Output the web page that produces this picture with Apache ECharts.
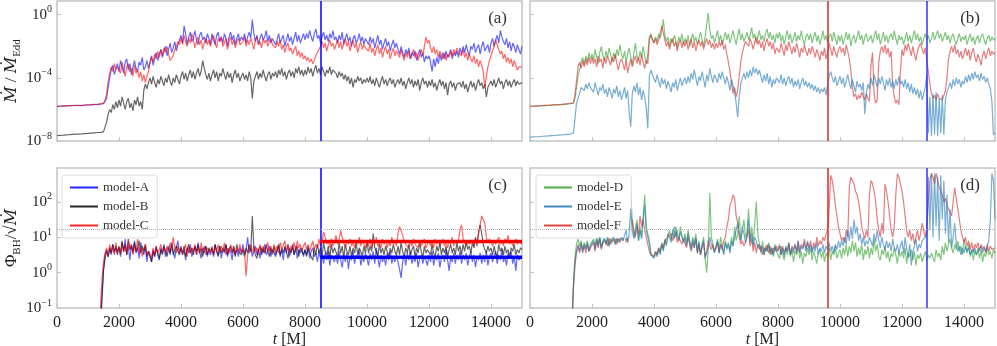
<!DOCTYPE html>
<html>
<head>
<meta charset="utf-8">
<script src="https://cdn.jsdelivr.net/npm/echarts@6/dist/echarts.min.js"></script>
<style>
  html, body { margin: 0; padding: 0; background: #fff; }
  #chart { width: 997px; height: 346px; }
</style>
</head>
<body>
<div id="chart"></div>
<script>
// time grid in M, one sample every 50 M (301 samples)
const time = [0,50,100,150,200,250,300,350,400,450,
  500,550,600,650,700,750,800,850,900,950,
  1000,1050,1100,1150,1200,1250,1300,1350,1400,1450,
  1500,1550,1600,1650,1700,1750,1800,1850,1900,1950,
  2000,2050,2100,2150,2200,2250,2300,2350,2400,2450,
  2500,2550,2600,2650,2700,2750,2800,2850,2900,2950,
  3000,3050,3100,3150,3200,3250,3300,3350,3400,3450,
  3500,3550,3600,3650,3700,3750,3800,3850,3900,3950,
  4000,4050,4100,4150,4200,4250,4300,4350,4400,4450,
  4500,4550,4600,4650,4700,4750,4800,4850,4900,4950,
  5000,5050,5100,5150,5200,5250,5300,5350,5400,5450,
  5500,5550,5600,5650,5700,5750,5800,5850,5900,5950,
  6000,6050,6100,6150,6200,6250,6300,6350,6400,6450,
  6500,6550,6600,6650,6700,6750,6800,6850,6900,6950,
  7000,7050,7100,7150,7200,7250,7300,7350,7400,7450,
  7500,7550,7600,7650,7700,7750,7800,7850,7900,7950,
  8000,8050,8100,8150,8200,8250,8300,8350,8400,8450,
  8500,8550,8600,8650,8700,8750,8800,8850,8900,8950,
  9000,9050,9100,9150,9200,9250,9300,9350,9400,9450,
  9500,9550,9600,9650,9700,9750,9800,9850,9900,9950,
  10000,10050,10100,10150,10200,10250,10300,10350,10400,10450,
  10500,10550,10600,10650,10700,10750,10800,10850,10900,10950,
  11000,11050,11100,11150,11200,11250,11300,11350,11400,11450,
  11500,11550,11600,11650,11700,11750,11800,11850,11900,11950,
  12000,12050,12100,12150,12200,12250,12300,12350,12400,12450,
  12500,12550,12600,12650,12700,12750,12800,12850,12900,12950,
  13000,13050,13100,13150,13200,13250,13300,13350,13400,13450,
  13500,13550,13600,13650,13700,13750,13800,13850,13900,13950,
  14000,14050,14100,14150,14200,14250,14300,14350,14400,14450,
  14500,14550,14600,14650,14700,14750,14800,14850,14900,14950,
  15000];

// accretion rate Mdot/Mdot_Edd, stored as log10 exponents
const mdotA = [-5.82,-5.8,-5.79,-5.81,-5.78,-5.8,-5.77,-5.79,-5.76,-5.78,
  -5.75,-5.77,-5.74,-5.76,-5.75,-5.73,-5.76,-5.74,-5.72,-5.75,
  -5.72,-5.7,-5.71,-5.68,-5.7,-5.66,-5.69,-5.65,-5.67,-5.63,
  -5.64,-5.55,-5.3,-4.6,-4.0,-3.5,-3.2,-3.8,-3.4,-3.1,
  -3.6,-2.9,-3.3,-3.7,-3.0,-2.8,-3.5,-3.1,-3.8,-3.3,
  -2.9,-3.4,-3.6,-3.0,-3.2,-2.7,-3.5,-3.3,-2.9,-3.4,
  -3.0,-2.6,-3.2,-2.8,-2.4,-2.9,-2.5,-2.2,-2.7,-2.3,
  -2.0,-2.6,-2.2,-1.8,-2.4,-2.1,-1.7,-2.3,-1.9,-1.6,
  -1.3,-1.8,-0.7,-1.2,-1.9,-1.4,-1.1,-1.7,-1.5,-1.0,
  -1.6,-1.9,-1.3,-1.1,-1.6,-1.4,-1.8,-1.2,-1.5,-1.9,
  -1.2,-1.6,-1.9,-1.3,-1.1,-1.7,-1.4,-1.8,-1.2,-1.5,
  -2.0,-1.4,-1.1,-1.6,-1.3,-1.9,-1.5,-1.2,-1.7,-1.4,
  -1.6,-1.2,-1.8,-1.4,-1.1,-1.5,-0.3,-1.2,-1.7,-1.3,
  -1.9,-1.5,-1.2,-1.6,-1.4,-1.0,-1.7,-1.3,-1.8,-1.5,
  -1.4,-1.9,-1.6,-1.2,-1.8,-1.5,-1.3,-2.0,-1.6,-1.2,
  -1.7,-1.4,-1.9,-1.5,-1.1,-1.7,-1.3,-1.8,-1.5,-1.2,
  -1.6,-1.2,-1.5,-1.0,-1.4,-1.7,-1.2,-0.9,-1.5,-1.3,
  -1.8,-1.4,-1.1,-1.6,-1.3,-1.7,-1.2,-1.5,-1.0,-1.6,
  -1.4,-1.8,-1.3,-1.6,-1.1,-1.9,-1.5,-1.2,-1.7,-1.4,
  -2.0,-1.5,-1.3,-1.8,-1.6,-1.2,-1.7,-1.4,-1.9,-1.5,
  -1.6,-1.9,-1.4,-1.8,-1.5,-2.1,-1.7,-1.3,-1.9,-1.6,
  -2.2,-1.8,-1.5,-2.0,-1.7,-2.3,-1.9,-1.6,-2.1,-1.8,
  -2.2,-2.5,-2.0,-2.4,-2.7,-2.2,-2.5,-2.1,-2.8,-2.4,
  -2.6,-2.3,-2.9,-2.5,-2.2,-2.7,-2.4,-3.0,-2.6,-2.8,
  -2.6,-3.0,-3.6,-2.8,-3.3,-2.7,-3.1,-2.5,-2.9,-2.4,
  -2.8,-2.3,-2.7,-2.5,-2.2,-2.8,-2.4,-2.6,-2.3,-2.7,
  -2.1,-2.5,-2.0,-2.4,-1.9,-2.3,-2.6,-2.0,-2.2,-1.8,
  -2.4,-2.1,-1.9,-2.5,-2.0,-1.7,-2.3,-2.1,-1.9,-2.4,
  -1.8,-1.5,-2.0,-1.6,-1.3,-1.8,-1.0,-1.4,-1.7,-1.9,
  -1.5,-2.1,-1.7,-2.3,-1.8,-2.0,-2.4,-1.9,-2.2,-2.5,
  -2.0];
const mdotB = [-7.66,-7.62,-7.64,-7.6,-7.63,-7.58,-7.61,-7.57,-7.6,-7.55,
  -7.58,-7.54,-7.57,-7.52,-7.56,-7.51,-7.55,-7.5,-7.53,-7.49,
  -7.52,-7.47,-7.5,-7.45,-7.48,-7.43,-7.46,-7.42,-7.45,-7.4,
  -7.42,-7.35,-6.8,-6.3,-6.0,-6.2,-5.7,-6.0,-5.5,-5.9,
  -5.4,-5.8,-5.2,-5.6,-6.0,-5.5,-5.3,-5.9,-5.6,-6.1,
  -5.4,-5.7,-5.2,-5.8,-5.5,-6.0,-4.8,-4.4,-4.7,-4.3,
  -4.0,-4.4,-3.9,-4.3,-4.6,-4.1,-4.4,-3.9,-4.2,-4.5,
  -4.0,-4.3,-3.8,-4.2,-4.5,-4.0,-4.3,-3.8,-4.1,-4.4,
  -3.9,-3.6,-4.1,-3.7,-4.2,-3.8,-3.5,-4.0,-3.6,-4.1,
  -3.7,-3.4,-3.9,-3.6,-2.9,-3.4,-3.8,-4.1,-3.7,-4.2,
  -3.8,-3.5,-4.0,-3.6,-4.2,-3.7,-3.9,-3.4,-3.8,-4.1,
  -3.6,-4.0,-3.7,-4.3,-3.8,-3.5,-4.0,-3.7,-4.2,-3.9,
  -3.7,-4.1,-3.8,-4.2,-3.6,-4.0,-5.3,-4.2,-3.9,-3.6,
  -4.1,-3.7,-4.0,-3.5,-3.9,-4.2,-3.8,-3.6,-4.1,-3.7,
  -3.9,-3.6,-4.0,-3.5,-3.8,-3.4,-3.9,-3.6,-4.1,-3.7,
  -3.5,-3.9,-3.6,-4.0,-3.4,-3.7,-3.3,-3.8,-3.5,-3.9,
  -3.5,-3.8,-3.3,-3.7,-3.4,-3.9,-3.5,-3.2,-3.7,-3.4,
  -3.8,-3.3,-3.6,-3.9,-3.5,-3.7,-3.3,-3.8,-3.5,-3.6,
  -3.7,-4.0,-3.6,-3.9,-3.7,-4.1,-3.8,-4.2,-3.9,-4.4,
  -4.0,-4.6,-4.1,-4.3,-3.9,-4.2,-4.0,-4.4,-4.1,-4.3,
  -4.0,-4.3,-3.9,-4.4,-4.1,-4.5,-4.0,-4.3,-4.6,-4.2,
  -3.9,-4.4,-4.1,-4.5,-4.2,-4.0,-4.4,-4.1,-4.6,-4.3,
  -4.1,-4.4,-4.0,-4.5,-4.2,-4.7,-4.3,-4.0,-4.4,-4.1,
  -4.6,-4.2,-4.5,-4.1,-4.8,-4.3,-4.0,-4.4,-4.2,-4.6,
  -4.2,-4.5,-4.1,-4.6,-4.3,-4.8,-4.4,-4.1,-4.5,-4.2,
  -4.7,-4.3,-5.1,-4.4,-4.2,-4.6,-4.3,-4.8,-4.4,-4.5,
  -4.3,-4.6,-4.2,-4.7,-4.4,-4.9,-4.5,-4.2,-4.6,-4.3,
  -4.8,-4.4,-4.1,-4.5,-4.3,-4.7,-4.4,-5.2,-4.6,-4.4,
  -4.2,-4.5,-4.1,-4.6,-4.3,-4.0,-4.4,-4.2,-4.7,-4.3,
  -4.1,-4.5,-4.2,-4.6,-4.3,-4.1,-4.5,-4.2,-4.4,-4.3,
  -4.3];
const mdotC = [-5.81,-5.79,-5.8,-5.78,-5.79,-5.77,-5.78,-5.76,-5.77,-5.75,
  -5.76,-5.74,-5.75,-5.73,-5.74,-5.72,-5.74,-5.71,-5.73,-5.7,
  -5.71,-5.69,-5.7,-5.67,-5.68,-5.66,-5.67,-5.64,-5.65,-5.62,
  -5.6,-5.45,-5.0,-4.2,-3.7,-3.3,-3.6,-3.1,-3.5,-3.3,
  -3.2,-3.7,-3.0,-3.5,-3.9,-3.3,-3.1,-3.6,-3.4,-3.9,
  -3.2,-3.7,-3.5,-4.0,-3.6,-4.2,-3.8,-4.3,-3.9,-3.6,
  -3.1,-2.7,-3.0,-2.5,-2.8,-2.3,-2.7,-2.2,-2.6,-2.1,
  -2.4,-2.0,-2.5,-2.9,-3.0,-2.6,-2.2,-2.0,-1.7,-1.9,
  -1.5,-1.9,-1.3,-1.7,-2.0,-1.5,-1.8,-1.2,-1.6,-2.1,
  -1.7,-1.4,-1.9,-1.6,-2.2,-1.8,-1.5,-1.9,-1.6,-2.0,
  -1.6,-1.3,-1.8,-2.1,-1.5,-1.7,-1.4,-2.0,-1.8,-1.5,
  -2.2,-1.7,-1.4,-1.9,-1.6,-2.1,-1.7,-1.5,-1.9,-1.8,
  -1.7,-1.4,-2.0,-1.6,-1.9,-1.5,-1.8,-2.2,-1.6,-1.4,
  -1.9,-1.7,-2.1,-1.5,-1.8,-1.6,-2.0,-1.7,-1.5,-1.9,
  -1.8,-2.1,-1.7,-2.0,-1.6,-2.2,-1.9,-2.4,-2.0,-1.8,
  -2.3,-2.1,-2.5,-2.2,-2.0,-2.6,-2.3,-2.7,-2.4,-2.8,
  -2.6,-2.9,-2.7,-3.0,-2.8,-3.1,-2.9,-2.6,-2.5,-2.2,
  -2.0,-1.7,-2.1,-1.8,-2.3,-1.9,-1.6,-2.0,-1.8,-2.2,
  -1.9,-1.6,-2.1,-1.7,-2.2,-1.8,-1.5,-2.0,-1.7,-2.3,
  -1.9,-1.6,-2.1,-1.8,-2.4,-2.0,-1.7,-2.2,-1.9,-2.1,
  -2.0,-2.3,-1.8,-2.4,-2.1,-2.6,-2.2,-1.9,-2.5,-2.1,
  -2.7,-2.3,-2.0,-2.5,-2.2,-2.8,-2.4,-2.1,-2.6,-2.3,
  -2.4,-2.7,-2.2,-2.6,-2.9,-2.4,-2.7,-2.3,-2.8,-2.5,
  -2.2,-2.7,-2.4,-2.9,-2.5,-2.2,-2.6,-2.0,-1.4,-1.8,
  -1.6,-2.1,-2.4,-2.0,-2.5,-2.2,-2.7,-2.3,-2.6,-2.8,
  -2.4,-2.9,-2.5,-2.7,-2.3,-2.6,-2.2,-2.5,-2.1,-2.4,
  -2.3,-2.6,-2.2,-2.7,-2.4,-2.9,-2.5,-2.8,-3.0,-2.6,
  -3.1,-2.8,-3.3,-2.9,-3.2,-3.6,-4.6,-3.9,-3.3,-2.9,
  -2.6,-2.3,-2.0,-1.6,-1.9,-2.2,-2.5,-2.3,-2.8,-2.5,
  -3.0,-2.7,-3.1,-2.8,-3.3,-2.9,-3.2,-3.5,-3.3,-3.4,
  -3.3];
const mdotD = [-5.81,-5.79,-5.8,-5.78,-5.79,-5.76,-5.78,-5.75,-5.77,-5.74,
  -5.76,-5.73,-5.75,-5.72,-5.74,-5.71,-5.72,-5.7,-5.71,-5.68,
  -5.7,-5.67,-5.68,-5.65,-5.66,-5.62,-5.64,-5.6,-5.58,-5.3,
  -4.6,-3.9,-3.5,-3.0,-2.7,-3.2,-2.6,-3.0,-2.4,-2.8,
  -2.5,-2.9,-2.2,-2.7,-3.1,-2.4,-2.0,-2.6,-2.9,-2.3,
  -2.7,-2.1,-2.5,-3.0,-2.4,-2.8,-2.2,-2.6,-1.9,-2.5,
  -2.8,-2.3,-3.0,-2.5,-2.1,-2.7,-3.2,-2.4,-1.8,-2.6,
  -2.9,-2.3,-2.7,-2.0,-2.6,-3.1,-2.5,-1.4,-1.2,-1.5,
  -1.8,-1.4,-1.7,-1.2,-1.5,-1.0,-0.3,-1.3,-1.7,-1.4,
  -2.0,-1.5,-1.8,-1.3,-1.6,-2.1,-1.4,-1.7,-1.2,-1.9,
  -1.5,-1.8,-1.3,-2.0,-1.6,-1.2,-1.7,-1.4,-1.9,-1.5,
  -1.1,-1.6,-2.0,-1.4,-0.6,0.1,-1.0,-1.5,-1.3,-1.8,
  -1.4,-1.0,-1.7,-1.3,-1.9,-1.5,-1.1,-1.6,-1.2,-1.8,
  -1.4,-1.0,-1.5,-1.9,-1.3,-0.9,-1.6,-1.2,-1.7,-1.4,
  -1.1,-1.6,-1.3,-0.8,-1.5,-1.2,-1.8,-1.4,-1.0,-1.6,
  -1.3,-1.7,-1.2,-0.9,-1.5,-1.1,-1.6,-1.3,-1.8,-1.2,
  -1.5,-1.1,-1.7,-1.3,-1.9,-1.4,-1.0,-1.6,-1.2,-1.8,
  -1.5,-1.1,-1.7,-1.3,-1.6,-1.0,-1.5,-1.9,-1.4,-1.2,
  -1.6,-1.2,-1.8,-1.4,-1.1,-1.7,-1.3,-1.9,-1.5,-1.0,
  -1.6,-1.3,-1.8,-1.4,-1.2,-1.7,-1.1,-1.5,-1.9,-1.3,
  -1.7,-1.3,-1.9,-1.5,-1.1,-1.6,-1.2,-2.0,-1.5,-1.3,
  -1.8,-1.4,-1.0,-1.6,-1.3,-1.9,-1.4,-1.2,-1.7,-1.5,
  -1.3,-1.8,-1.4,-1.0,-1.6,-1.2,-1.9,-1.5,-1.1,-1.7,
  -1.3,-1.8,-1.4,-1.2,-1.6,-1.0,-1.5,-1.9,-1.3,-1.6,
  -1.4,-1.9,-1.5,-1.1,-1.7,-1.3,-1.8,-1.4,-1.0,-1.6,
  -1.2,-1.7,-1.4,-1.9,-1.5,-1.2,-1.6,-1.3,-1.8,-1.5,
  -1.1,-1.6,-1.3,-1.0,-1.5,-1.2,-1.7,-1.4,-1.1,-1.6,
  -1.3,-1.8,-1.4,-1.2,-1.6,-1.9,-1.5,-1.2,-1.7,-1.4,
  -1.6,-1.3,-1.9,-1.5,-1.2,-1.7,-1.4,-1.9,-1.5,-1.3,
  -1.8,-1.4,-1.2,-1.6,-1.9,-1.5,-1.3,-1.7,-1.4,-1.6,
  -1.5];
const mdotE = [-7.76,-7.72,-7.74,-7.7,-7.73,-7.69,-7.72,-7.67,-7.7,-7.66,
  -7.69,-7.64,-7.68,-7.63,-7.66,-7.62,-7.65,-7.6,-7.63,-7.59,
  -7.62,-7.58,-7.6,-7.56,-7.58,-7.54,-7.56,-7.52,-7.5,-6.6,
  -5.6,-5.3,-5.0,-4.6,-4.5,-4.8,-4.4,-4.7,-4.3,-4.6,
  -4.5,-4.9,-4.3,-4.7,-5.1,-4.6,-4.8,-4.4,-5.0,-4.7,
  -5.2,-4.6,-4.9,-5.3,-4.7,-5.0,-4.5,-5.2,-4.8,-5.4,
  -5.0,-4.6,-5.3,-4.8,-6.2,-7.1,-5.0,-4.5,-4.9,-4.3,
  -5.1,-4.6,-5.4,-4.8,-5.2,-5.9,-7.2,-3.9,-3.5,-3.8,
  -3.9,-4.3,-3.8,-4.2,-4.6,-4.0,-4.4,-4.1,-4.7,-4.2,
  -4.5,-4.9,-4.3,-4.6,-4.1,-4.8,-4.4,-4.0,-4.5,-4.2,
  -4.0,-4.4,-3.9,-4.3,-3.7,-4.1,-3.5,-4.0,-4.5,-3.9,
  -4.2,-3.6,-4.1,-4.6,-3.8,-4.2,-3.4,-3.9,-4.3,-3.8,
  -3.8,-4.3,-3.7,-4.1,-3.6,-4.0,-4.4,-3.9,-4.3,-4.8,
  -4.1,-4.5,-4.9,-5.6,-6.5,-5.2,-4.4,-4.0,-3.7,-4.1,
  -3.6,-4.0,-3.5,-3.9,-3.3,-3.7,-3.4,-3.8,-3.5,-3.9,
  -4.3,-3.8,-4.2,-3.7,-4.4,-3.9,-4.6,-4.1,-4.4,-4.0,
  -3.9,-4.3,-3.8,-4.4,-4.0,-4.5,-4.1,-3.9,-4.4,-4.0,
  -4.6,-4.2,-4.5,-4.1,-4.7,-4.3,-4.0,-4.5,-4.2,-4.6,
  -4.3,-4.7,-4.4,-4.8,-4.5,-4.9,-4.6,-5.0,-4.7,-4.9,
  -4.6,-5.1,-4.4,-3.9,-3.6,-4.0,-4.3,-3.9,-4.5,-4.2,
  -3.9,-4.4,-4.0,-4.6,-4.2,-3.8,-4.3,-4.7,-4.1,-4.5,
  -4.9,-4.2,-4.6,-4.4,-4.8,-4.3,-6.3,-5.0,-4.4,-4.7,
  -4.0,-4.5,-3.8,-4.2,-4.6,-4.0,-4.4,-3.9,-4.3,-4.8,
  -4.1,-4.5,-4.0,-4.6,-4.2,-4.7,-4.1,-4.5,-3.9,-4.4,
  -4.2,-4.6,-4.1,-4.7,-4.3,-4.9,-4.4,-5.0,-4.6,-5.1,
  -4.7,-5.3,-4.8,-5.4,-5.0,-4.6,-3.8,-7.5,-5.2,-7.7,
  -5.0,-7.6,-4.9,-7.7,-5.3,-7.5,-5.1,-7.6,-5.4,-4.9,
  -4.6,-4.3,-4.7,-4.1,-4.5,-4.0,-4.4,-4.1,-4.6,-4.2,
  -4.4,-3.9,-4.3,-3.8,-4.2,-3.7,-4.1,-3.6,-4.0,-3.8,
  -4.2,-3.7,-4.1,-3.9,-4.3,-4.0,-4.4,-4.7,-5.5,-7.6,
  -7.5];
const mdotF = [-5.8,-5.8,-5.79,-5.79,-5.78,-5.77,-5.77,-5.76,-5.75,-5.75,
  -5.74,-5.73,-5.73,-5.72,-5.71,-5.71,-5.7,-5.7,-5.69,-5.68,
  -5.68,-5.67,-5.66,-5.65,-5.64,-5.63,-5.62,-5.61,-5.6,-5.1,
  -4.2,-3.3,-3.0,-3.4,-2.9,-3.3,-2.8,-3.2,-2.7,-3.1,
  -2.7,-3.1,-2.8,-3.3,-2.6,-3.0,-2.8,-3.4,-2.7,-3.1,
  -2.6,-2.9,-3.2,-2.7,-3.0,-2.5,-3.1,-3.5,-3.0,-2.8,
  -3.1,-3.5,-2.9,-3.7,-3.2,-2.8,-3.3,-2.9,-2.6,-3.1,
  -2.7,-3.2,-2.5,-3.0,-3.4,-2.9,-3.1,-1.6,-1.3,-1.6,
  -1.8,-1.5,-1.9,-1.6,-1.2,-0.7,-0.6,-1.6,-2.0,-1.7,
  -2.2,-1.8,-1.5,-2.0,-1.7,-2.3,-1.8,-1.6,-2.1,-1.7,
  -2.0,-1.6,-2.2,-1.8,-1.5,-2.1,-1.7,-2.3,-1.9,-1.6,
  -2.0,-1.7,-2.2,-1.8,-1.5,-1.9,-1.6,-2.1,-1.8,-2.2,
  -1.8,-2.1,-1.7,-2.0,-1.6,-2.2,-1.9,-2.5,-3.0,-3.6,
  -4.3,-5.0,-4.6,-5.2,-4.8,-3.9,-3.0,-2.4,-2.0,-1.7,
  -1.6,-2.0,-1.5,-1.8,-2.2,-1.7,-1.4,-1.9,-1.6,-2.1,
  -1.7,-2.3,-1.8,-1.5,-2.0,-1.7,-2.2,-1.8,-2.5,-2.1,
  -2.0,-2.4,-1.8,-2.2,-2.6,-1.9,-2.3,-1.7,-2.1,-2.5,
  -2.0,-2.4,-1.8,-2.2,-2.7,-2.1,-2.4,-1.9,-2.3,-2.6,
  -2.1,-2.5,-2.0,-2.3,-2.7,-2.2,-2.5,-2.9,-2.3,-2.6,
  -2.1,-2.8,-2.4,-1.8,-2.2,-2.6,-2.0,-2.4,-2.7,-2.2,
  -2.0,-2.4,-2.1,-2.6,-1.9,-2.3,-2.8,-3.5,-4.6,-5.2,
  -5.0,-5.4,-5.1,-5.3,-4.9,-5.2,-5.4,-5.0,-5.3,-5.5,
  -3.2,-2.4,-5.0,-5.6,-5.4,-3.0,-2.3,-2.0,-2.4,-1.9,
  -2.5,-2.1,-2.7,-2.3,-4.5,-5.2,-5.6,-5.4,-5.7,-3.6,
  -2.2,-2.6,-1.9,-2.3,-1.8,-2.2,-2.6,-2.0,-2.5,-2.9,
  -2.3,-2.0,-1.8,-2.2,-2.5,-2.1,-2.9,-3.6,-4.4,-5.0,
  -5.3,-5.1,-5.4,-5.0,-5.3,-5.2,-5.4,-5.1,-4.8,-4.0,
  -2.8,-2.3,-2.0,-2.4,-1.9,-2.5,-2.2,-2.7,-2.3,-2.8,
  -2.5,-2.1,-2.6,-2.2,-2.9,-2.4,-2.1,-2.7,-3.0,-2.5,
  -2.8,-3.2,-2.6,-2.3,-2.8,-2.4,-2.1,-2.6,-2.3,-2.5,
  -2.4];

// magnetic flux Phi_BH/sqrt(Mdot), log10 exponents (null = no flux yet)
const phiA = [null,null,null,null,null,null,null,null,null,null,
  null,null,null,null,null,null,null,null,null,null,
  null,null,null,null,null,null,null,null,-1.5,-0.6,
  0.1,0.5,0.65,0.45,0.7,0.5,0.8,0.55,0.75,0.6,
  0.7,0.45,0.85,0.6,0.95,0.5,0.75,0.35,0.8,0.6,
  0.9,0.55,0.7,0.4,0.85,0.65,0.5,0.75,0.3,0.6,
  0.55,0.3,0.65,0.45,0.75,0.5,0.35,0.7,0.55,0.8,
  0.45,0.65,0.75,0.5,0.85,0.6,0.4,0.7,0.9,0.55,
  0.75,0.5,0.65,0.35,0.7,0.55,0.8,0.45,0.6,0.75,
  0.5,0.85,0.6,0.4,0.7,0.55,0.75,0.45,0.65,0.5,
  0.7,0.45,0.8,0.6,0.5,0.75,0.4,0.65,0.55,0.8,
  0.45,0.7,0.6,0.35,0.75,0.5,0.65,0.45,0.7,0.55,
  0.8,0.5,0.65,1.0,0.55,0.7,0.45,0.6,0.75,0.5,
  0.65,0.4,0.7,0.55,0.8,0.5,0.6,0.75,0.45,0.65,
  0.7,0.45,0.6,0.75,0.5,0.65,0.35,0.7,0.55,0.8,
  0.45,0.6,0.7,0.5,0.75,0.4,0.65,0.55,0.7,0.45,
  0.65,0.5,0.75,0.4,0.6,0.7,0.45,0.55,0.3,0.6,
  0.4,0.5,0.25,0.55,0.35,0.6,0.2,0.5,0.4,0.3,
  0.5,0.25,0.6,0.35,0.15,0.5,0.3,0.55,0.1,0.45,
  0.35,0.6,0.25,0.5,0.4,0.65,0.2,0.45,0.3,0.55,
  0.4,0.2,0.55,0.35,0.6,0.25,0.7,0.4,0.15,0.5,
  0.3,0.45,0.2,0.55,0.35,0.6,0.25,0.45,0.3,0.5,
  0.45,0.1,-0.15,0.3,0.5,0.2,0.55,0.35,0.6,0.25,
  0.45,0.3,0.55,0.15,0.4,0.5,0.25,0.45,0.35,0.2,
  0.5,0.3,0.6,0.2,0.45,0.35,0.55,0.15,0.4,0.5,
  0.3,0.65,0.35,0.05,0.45,0.3,0.55,0.25,0.5,0.35,
  0.6,0.25,0.5,0.35,0.55,0.2,0.45,0.6,0.3,0.5,
  0.15,0.45,0.35,0.55,0.25,0.5,0.3,0.6,0.2,0.45,
  0.55,0.3,0.45,0.6,0.25,0.5,0.35,0.65,0.3,0.45,
  0.2,0.55,0.4,0.6,0.25,0.45,0.05,0.5,0.35,0.4,
  0.45];
const phiB = [null,null,null,null,null,null,null,null,null,null,
  null,null,null,null,null,null,null,null,null,null,
  null,null,null,null,null,null,null,null,-1.6,-0.8,
  0.05,0.4,0.6,0.45,0.7,0.55,0.8,0.6,0.7,0.5,
  0.75,0.55,0.9,0.6,0.8,0.5,0.95,0.65,0.75,0.55,
  0.85,0.6,0.7,0.9,0.55,0.75,0.6,0.8,0.45,0.6,
  0.5,0.3,0.6,0.45,0.7,0.55,0.4,0.65,0.5,0.75,
  0.6,0.45,0.7,0.55,0.8,0.5,0.65,0.75,0.6,0.5,
  0.7,0.55,0.75,0.45,0.65,0.8,0.55,0.7,0.5,0.75,
  0.6,0.8,0.55,0.7,0.45,0.65,0.75,0.5,0.7,0.6,
  0.7,0.5,0.8,0.6,0.45,0.75,0.55,0.7,0.6,0.8,
  0.5,0.65,0.75,0.55,0.7,0.45,0.8,0.6,0.65,0.5,
  0.65,0.45,0.7,0.55,0.8,0.6,1.6,0.7,0.5,0.4,
  0.65,0.75,0.5,0.7,0.55,0.8,0.6,0.45,0.7,0.55,
  0.75,0.5,0.65,0.8,0.45,0.7,0.55,0.75,0.6,0.4,
  0.7,0.55,0.8,0.5,0.65,0.75,0.45,0.7,0.6,0.5,
  0.65,0.45,0.7,0.55,0.6,0.35,0.7,0.5,0.8,0.55,
  0.7,0.45,0.85,0.6,0.5,0.75,0.4,0.8,0.55,0.7,
  0.7,0.45,0.85,0.55,0.75,0.4,0.8,0.6,0.5,0.75,
  0.45,0.7,0.55,0.85,0.5,0.7,0.6,0.45,0.75,0.55,
  0.9,0.55,0.75,0.6,1.1,0.7,0.6,0.45,0.8,0.55,
  0.7,0.5,0.75,0.6,0.45,0.7,0.55,0.8,0.6,0.5,
  0.75,0.5,0.85,0.6,0.45,0.7,0.55,0.8,0.5,0.65,
  0.75,0.45,0.7,0.55,0.85,0.6,0.4,0.75,0.55,0.65,
  0.7,0.5,0.8,0.55,0.45,0.75,0.6,0.85,0.5,0.7,
  0.55,0.75,0.45,0.65,0.8,0.55,0.7,0.5,0.85,0.6,
  0.75,0.5,0.8,0.6,0.9,0.65,0.75,0.55,0.85,0.7,
  1.0,0.75,1.15,1.35,1.1,0.8,0.65,0.55,0.75,0.6,
  0.7,0.5,0.75,0.55,0.45,0.8,0.6,0.7,0.5,0.75,
  0.55,0.65,0.45,0.7,0.6,0.8,0.5,0.65,0.55,0.7,
  0.65];
const phiC = [null,null,null,null,null,null,null,null,null,null,
  null,null,null,null,null,null,null,null,null,null,
  null,null,null,null,null,null,null,null,-1.0,-0.2,
  0.3,0.55,0.7,0.45,0.8,0.6,0.75,0.5,0.85,0.55,
  0.7,0.5,0.85,0.6,0.75,0.55,0.9,0.65,0.8,0.5,
  0.75,0.6,0.95,0.55,0.7,0.45,0.65,0.8,0.5,0.6,
  0.6,0.4,0.7,0.5,0.75,0.55,0.65,0.8,0.6,0.7,
  0.55,0.75,0.6,0.85,0.65,1.0,0.7,0.55,0.75,0.6,
  0.7,0.5,0.65,0.8,0.45,0.75,0.55,0.7,0.6,0.8,
  0.5,0.7,0.55,0.85,0.6,0.75,0.5,0.7,0.65,0.55,
  0.75,0.5,0.7,0.6,0.8,0.55,0.75,0.6,0.85,0.5,
  0.7,0.55,0.8,0.6,0.75,0.5,0.7,0.6,0.8,0.55,
  0.7,0.55,-0.1,0.5,0.65,0.8,0.55,0.75,0.6,0.7,
  0.5,0.8,0.6,0.75,0.55,0.7,0.85,0.6,0.75,0.5,
  0.8,0.6,0.75,0.55,0.85,0.65,0.7,0.9,0.6,0.8,
  0.55,0.75,0.65,0.85,0.6,0.9,0.7,0.8,0.6,0.75,
  0.85,0.65,0.8,0.6,0.75,0.9,0.65,0.8,0.7,0.95,
  0.75,0.85,1.15,1.0,0.8,0.9,0.7,0.95,0.75,0.85,
  1.05,0.8,0.9,1.2,1.0,0.85,0.7,0.9,0.8,0.95,
  0.75,0.85,0.7,0.9,0.8,1.0,0.75,0.9,0.8,0.7,
  0.85,0.75,0.95,0.7,0.9,0.8,1.0,0.75,0.85,0.7,
  0.95,0.8,0.9,0.7,0.85,0.75,1.0,0.8,0.9,0.75,
  1.1,1.3,1.25,1.05,0.9,0.8,0.85,0.7,0.9,0.75,
  0.95,0.8,0.85,0.7,0.9,0.75,0.85,0.95,0.7,0.8,
  0.9,0.75,0.85,0.7,0.95,0.8,0.9,0.75,0.85,0.95,
  0.75,0.85,0.7,0.9,0.8,1.0,0.75,0.85,0.8,0.9,
  1.2,1.35,0.95,0.85,0.75,0.9,0.8,0.85,0.9,0.75,
  0.95,0.85,1.1,1.35,1.6,1.55,1.4,1.0,0.85,0.95,
  0.85,0.75,0.9,0.8,0.85,1.0,0.8,0.9,0.75,0.95,
  0.85,1.05,0.8,0.9,0.75,0.85,0.95,0.8,0.9,0.85,
  0.8];
const phiD = [null,null,null,null,null,null,null,null,null,null,
  null,null,null,null,null,null,null,null,null,null,
  null,null,null,null,null,null,null,-1.5,-0.3,0.45,
  0.8,0.95,0.75,0.9,0.65,0.85,0.7,0.9,0.6,0.8,
  0.75,0.95,0.7,1.0,0.8,1.05,0.7,0.9,1.0,0.8,
  0.95,0.75,1.05,0.85,0.95,0.8,1.0,0.9,0.85,1.0,
  0.9,1.1,1.3,0.85,1.2,2.3,1.4,1.0,1.2,1.5,
  0.9,1.3,1.0,1.6,2.2,1.3,1.1,0.9,0.55,0.5,
  0.45,0.6,0.5,0.7,0.55,0.85,0.65,0.95,0.8,1.05,
  1.2,0.9,1.1,1.3,1.0,1.2,0.9,1.3,1.05,0.9,
  1.1,0.8,1.2,0.9,0.7,1.0,0.8,1.1,0.6,0.9,
  0.5,0.8,1.0,0.4,0.0,0.7,2.25,1.0,0.8,0.6,
  0.7,0.95,0.6,1.0,0.75,0.55,0.9,0.7,0.85,0.6,
  1.0,0.75,1.3,0.9,1.1,1.6,0.9,1.2,1.5,1.0,
  1.1,1.8,0.9,1.3,0.8,1.4,2.0,1.1,0.8,0.6,
  0.9,0.5,0.75,0.6,0.85,0.5,0.7,0.45,0.8,0.6,
  0.65,0.4,0.75,0.55,0.35,0.7,0.5,0.8,0.45,0.65,
  0.3,0.6,0.5,0.75,0.4,0.6,0.25,0.55,0.45,0.7,
  0.5,0.7,0.35,0.6,0.45,0.25,0.55,0.65,0.4,0.6,
  0.3,0.55,0.45,0.7,0.35,0.6,0.5,0.75,0.4,0.55,
  0.65,0.4,0.7,0.5,0.8,0.45,0.75,0.55,0.9,0.6,
  0.85,0.45,0.7,0.5,0.8,0.35,0.65,0.5,0.75,0.4,
  0.7,0.5,0.95,0.6,0.8,0.45,0.35,0.65,0.5,0.75,
  0.4,0.6,0.3,0.55,0.45,0.7,0.5,0.25,0.6,0.45,
  0.6,0.4,0.7,0.25,0.55,0.45,0.65,0.35,0.6,0.2,
  0.5,0.4,0.55,0.3,0.45,0.6,0.35,0.5,0.4,0.55,
  0.5,0.3,0.65,0.45,0.55,0.35,0.75,0.5,0.85,0.6,
  0.8,0.95,0.7,0.55,0.8,0.65,0.9,0.6,0.75,0.5,
  0.95,0.7,0.55,0.8,0.45,0.65,0.35,0.6,0.5,0.7,
  0.4,0.65,0.3,0.55,0.45,0.7,0.5,0.6,0.4,0.65,
  0.55];
const phiE = [null,null,null,null,null,null,null,null,null,null,
  null,null,null,null,null,null,null,null,null,null,
  null,null,null,null,null,null,null,-1.5,-0.5,0.2,
  0.55,0.75,0.6,0.85,0.55,0.8,0.65,0.85,0.6,0.75,
  0.7,0.9,0.65,0.95,0.75,1.0,0.7,0.85,0.95,0.8,
  1.0,0.75,0.9,0.85,1.0,0.8,0.95,0.85,0.9,1.0,
  0.9,1.05,1.2,0.85,1.1,1.8,1.2,0.95,1.1,1.4,
  0.9,1.2,0.95,1.5,1.9,1.2,1.0,0.8,0.5,0.45,
  0.4,0.55,0.45,0.65,0.5,0.8,0.6,0.9,0.75,1.1,
  1.0,0.85,1.2,0.95,1.3,1.05,0.9,1.15,1.0,0.85,
  1.0,0.75,1.1,0.85,0.65,0.95,0.7,1.0,0.55,0.85,
  0.5,0.75,0.9,0.4,0.35,0.7,1.0,0.8,0.7,0.55,
  0.6,0.9,0.55,0.8,0.7,0.5,0.85,0.65,0.8,0.55,
  0.9,0.75,1.0,1.2,1.4,1.1,0.9,1.3,1.1,0.85,
  1.0,1.5,0.85,1.1,0.75,1.0,0.9,0.7,0.8,0.55,
  0.75,0.5,0.7,0.6,0.8,0.55,0.7,0.5,0.75,0.6,
  0.55,0.75,0.5,0.7,0.45,0.75,0.6,0.85,0.5,0.7,
  0.55,0.8,0.6,0.9,0.55,0.75,0.65,0.85,0.6,0.9,
  0.6,0.8,0.55,0.75,0.6,0.85,0.5,0.7,0.6,0.8,
  0.55,0.75,0.65,0.85,0.6,0.75,0.55,0.8,0.65,0.9,
  0.7,0.9,0.75,1.0,0.8,1.2,0.9,1.3,0.95,1.5,
  1.1,1.3,0.9,1.1,0.8,1.0,0.75,0.9,0.8,1.0,
  0.95,0.75,1.1,0.85,1.2,0.9,0.7,1.0,0.8,0.65,
  0.9,0.7,0.85,0.6,0.95,0.7,0.6,0.8,0.55,0.75,
  0.9,0.55,1.0,0.7,0.4,0.8,0.2,0.6,0.75,0.95,
  0.6,0.8,0.7,0.9,0.85,1.0,1.1,2.7,1.2,2.8,
  1.0,2.8,1.3,2.7,0.9,2.75,1.5,2.6,1.1,2.2,
  0.85,1.8,0.7,1.0,1.4,0.8,0.6,0.75,0.5,0.7,
  0.55,0.75,0.6,0.7,0.5,0.65,0.55,0.7,0.5,0.6,
  0.65,0.75,0.55,0.7,0.6,0.75,0.9,1.5,2.8,2.6,
  1.5];
const phiF = [null,null,null,null,null,null,null,null,null,null,
  null,null,null,null,null,null,null,null,null,null,
  null,null,null,null,null,null,null,-1.5,-0.4,0.3,
  0.6,0.8,0.55,0.8,0.6,0.75,0.55,0.8,0.6,0.7,
  0.75,0.85,0.6,0.9,0.7,0.95,0.65,0.85,0.8,0.9,
  0.75,1.0,0.8,0.9,0.85,0.95,0.8,1.0,0.85,0.95,
  0.95,1.1,0.85,1.3,1.0,1.4,1.5,1.2,1.0,1.3,
  1.1,1.6,1.3,1.5,1.2,1.0,0.8,0.6,0.5,0.45,
  0.45,0.6,0.5,0.7,0.6,0.8,0.7,0.9,0.85,1.0,
  0.95,1.1,0.9,1.0,1.15,0.85,1.0,0.9,0.8,0.95,
  0.9,0.7,1.0,0.8,0.6,0.85,0.7,0.95,0.55,0.8,
  0.5,0.7,0.85,0.45,0.6,0.9,0.75,0.65,0.8,0.6,
  0.7,0.85,0.55,0.8,0.65,0.9,1.0,1.3,1.5,1.9,
  2.0,2.2,2.1,1.6,1.4,1.0,0.8,0.9,0.75,0.85,
  0.8,1.2,0.75,0.95,0.6,0.85,0.55,0.8,0.65,0.75,
  0.5,0.7,0.6,0.8,0.55,0.75,0.5,0.7,0.6,0.75,
  0.6,0.8,0.5,0.75,0.55,0.7,0.6,0.85,0.5,0.75,
  0.65,0.8,0.55,0.9,0.6,0.8,0.7,0.95,0.65,0.85,
  0.7,0.9,0.6,0.85,0.7,1.0,0.75,0.9,0.8,1.0,
  0.9,1.1,1.2,1.8,2.75,2.6,2.3,1.9,1.6,1.3,
  1.1,0.9,1.0,0.85,1.2,1.0,2.4,2.7,2.6,2.5,
  2.3,2.2,2.0,1.7,1.3,1.1,0.95,1.2,1.0,2.2,
  2.6,2.5,2.3,2.0,1.5,1.2,1.0,1.4,1.1,2.5,
  2.3,2.0,1.6,1.2,1.0,1.3,2.2,2.8,2.7,2.5,
  2.3,2.0,1.6,1.2,1.0,1.2,0.9,1.1,0.8,1.0,
  1.2,0.9,1.1,1.4,1.2,1.0,1.3,2.0,2.6,2.8,
  2.7,2.5,2.8,2.6,2.4,2.3,2.2,2.0,2.1,1.9,
  1.8,1.7,1.6,2.0,2.4,2.1,1.8,1.5,1.2,1.0,
  0.85,1.0,0.75,0.9,0.65,0.85,0.6,0.8,0.7,0.85,
  0.6,0.8,0.65,0.75,0.55,0.8,0.6,0.75,0.65,0.7,
  0.7];

// time-averaged flux after t = 8500 M (panel c)
const meanA = 2.7;
const meanC = 7.5;
// vertical markers and reference flux level
const tLineAC = 8500;
const tLineF = 9600;
const tLineE = 12800;
const phiRef = 16.5;

const xTicks = [0, 2000, 4000, 6000, 8000, 10000, 12000, 14000];
const mdotTicks = [1e-8, 1e-4, 1];
const phiTicks = [0.1, 1, 10, 100];

const SERIF = '"Liberation Serif", "DejaVu Serif", serif';
const MDOT_FONT = '"DejaVu Serif", serif';
const SPINE = '#c4c4c4';

function toPairs(logs) {
  return time.map((t, i) => [t, logs[i] == null ? null : Math.pow(10, logs[i])]);
}

function powLabel(v) {
  const e = Math.round(Math.log10(v));
  return '{b|10}{s|' + (e < 0 ? '\u2212' + (-e) : e) + '}';
}

const gridBoxes = [
  { left: 57, top: 1, width: 465, height: 140 },
  { left: 530, top: 1, width: 465, height: 140 },
  { left: 57, top: 168, width: 465, height: 140 },
  { left: 530, top: 168, width: 465, height: 140 }
];

const grids = gridBoxes.map(g => Object.assign({
  show: true, borderColor: SPINE, borderWidth: 1.5,
  backgroundColor: 'transparent', containLabel: false, outerBoundsMode: 'none'
}, g));

const xAxes = gridBoxes.map((g, i) => ({
  type: 'value', gridIndex: i, min: 0, max: 15000,
  axisLine: { show: false },
  splitLine: { show: false },
  axisTick: { show: true, inside: true, length: 4, customValues: xTicks,
    lineStyle: { color: SPINE, width: 1 } },
  axisLabel: { show: i >= 2, customValues: xTicks, margin: 7,
    formatter: v => String(v),
    fontFamily: SERIF, fontSize: 16, color: '#222' },
  name: i >= 2 ? '{i|t} [M]' : '',
  nameLocation: 'middle', nameGap: 23,
  nameTextStyle: { fontFamily: SERIF, fontSize: 16, color: '#222',
    rich: { i: { fontFamily: SERIF, fontStyle: 'italic', fontSize: 16, color: '#222' } } }
}));

const richTick = {
  b: { fontFamily: SERIF, fontSize: 15, color: '#222', lineHeight: 20 },
  s: { fontFamily: SERIF, fontSize: 10, color: '#222', lineHeight: 12, verticalAlign: 'top' }
};

const yNames = [
  '{i|Ṁ} / {i|Ṁ}{sub|Edd}', '', '{r|Φ}{sub|BH}{r|/√}{i|Ṁ}', ''
];

const yAxes = gridBoxes.map((g, i) => {
  const top = i < 2;
  const ticks = top ? mdotTicks : phiTicks;
  return {
    type: 'log', logBase: 10, gridIndex: i,
    min: top ? 1e-8 : 0.1,
    max: top ? 7.4 : 900,
    axisLine: { show: false },
    splitLine: { show: false },
    axisTick: { show: true, inside: true, length: 4, customValues: ticks,
      lineStyle: { color: SPINE, width: 1 } },
    axisLabel: { show: i % 2 === 0, customValues: ticks, margin: 5,
      formatter: powLabel, rich: richTick },
    name: yNames[i],
    nameLocation: 'middle', nameRotate: 90, nameGap: 31,
    nameTextStyle: { fontFamily: SERIF, fontSize: 17, color: '#222',
      rich: {
        i: { fontFamily: MDOT_FONT, fontStyle: 'italic', fontSize: 16, color: '#222', lineHeight: 22 },
        r: { fontFamily: SERIF, fontSize: 17, color: '#222', lineHeight: 22 },
        sub: { fontFamily: SERIF, fontSize: 11, color: '#222', lineHeight: 12, verticalAlign: 'bottom' }
      } }
  };
});

function line(name, logs, gi, color, z) {
  return {
    name: name, type: 'line', xAxisIndex: gi, yAxisIndex: gi,
    data: toPairs(logs), showSymbol: false, symbol: 'none',
    connectNulls: false, clip: true, silent: true, z: z || 2,
    itemStyle: { color: color },
    lineStyle: { color: color, width: 1.2, opacity: 0.6 },
    emphasis: { disabled: true }
  };
}

function vline(t, color) {
  return { xAxis: t, lineStyle: { color: color, width: 1.5, type: 'solid', opacity: 1 } };
}
const refLine = { yAxis: phiRef, lineStyle: { color: '#b0b0b0', width: 1, type: 'dotted', opacity: 1 } };

function marks(items) {
  return { silent: true, symbol: ['none', 'none'], label: { show: false },
    animation: false, data: items };
}

const sA = line('model-A', mdotA, 0, '#0000ff');
sA.markLine = marks([vline(tLineAC, '#0000ff')]);
const sB = line('model-B', mdotB, 0, '#000000');
const sC = line('model-C', mdotC, 0, '#ff0000', 3);

const sD = line('model-D', mdotD, 1, '#2ca02c');
sD.markLine = marks([vline(tLineF, '#d62728'), vline(tLineE, '#3030ff')]);
const sF = line('model-F', mdotF, 1, '#d62728', 3);
const sE = line('model-E', mdotE, 1, '#1f77b4', 4);

const pA = line('model-A', phiA, 2, '#0000ff');
pA.markLine = marks([vline(tLineAC, '#0000ff'), refLine]);
const pB = line('model-B', phiB, 2, '#000000');
const pC = line('model-C', phiC, 2, '#ff0000', 3);
const mA = {
  name: 'mean-A', type: 'line', xAxisIndex: 2, yAxisIndex: 2, z: 5, silent: true,
  data: [[tLineAC, meanA], [15000, meanA]], symbol: 'none',
  lineStyle: { color: '#0000ff', width: 3.5 }
};
const mC = {
  name: 'mean-C', type: 'line', xAxisIndex: 2, yAxisIndex: 2, z: 5, silent: true,
  data: [[tLineAC, meanC], [15000, meanC]], symbol: 'none',
  lineStyle: { color: '#ff0000', width: 3.5 }
};

const pD = line('model-D', phiD, 3, '#2ca02c');
pD.markLine = marks([vline(tLineF, '#d62728'), vline(tLineE, '#3030ff'), refLine]);
const pF = line('model-F', phiF, 3, '#d62728', 3);
const pE = line('model-E', phiE, 3, '#1f77b4', 4);

const legendBase = {
  orient: 'vertical', top: 175, icon: 'rect', itemWidth: 28, itemHeight: 2,
  itemGap: 6, padding: [6, 8, 6, 8], backgroundColor: '#fff',
  borderColor: '#dcdcdc', borderWidth: 1, borderRadius: 3,
  selectedMode: false,
  textStyle: { fontFamily: SERIF, fontSize: 13, color: '#333' }
};

const panelTitle = (text, right, top) => ({
  text: text, right: right, top: top,
  textStyle: { fontFamily: SERIF, fontSize: 17, fontWeight: 'normal', color: '#333' }
});

const chart = echarts.init(document.getElementById('chart'), null, { renderer: 'canvas' });
chart.setOption({
  animation: false,
  backgroundColor: '#fff',
  title: [
    panelTitle('(a)', 485, 5),
    panelTitle('(b)', 12, 5),
    panelTitle('(c)', 485, 172),
    panelTitle('(d)', 12, 172)
  ],
  legend: [
    Object.assign({ left: 62, data: [
      { name: 'model-A', itemStyle: { color: '#0000ff', opacity: 0.85 } },
      { name: 'model-B', itemStyle: { color: '#000000', opacity: 0.85 } },
      { name: 'model-C', itemStyle: { color: '#ff0000', opacity: 0.85 } }
    ] }, legendBase),
    Object.assign({ left: 536, data: [
      { name: 'model-D', itemStyle: { color: '#2ca02c', opacity: 0.85 } },
      { name: 'model-E', itemStyle: { color: '#1f77b4', opacity: 0.85 } },
      { name: 'model-F', itemStyle: { color: '#d62728', opacity: 0.85 } }
    ] }, legendBase)
  ],
  grid: grids,
  xAxis: xAxes,
  yAxis: yAxes,
  series: [sA, sB, sC, sD, sF, sE, pA, pB, pC, mA, mC, pD, pF, pE]
});
</script>
</body>
</html>
